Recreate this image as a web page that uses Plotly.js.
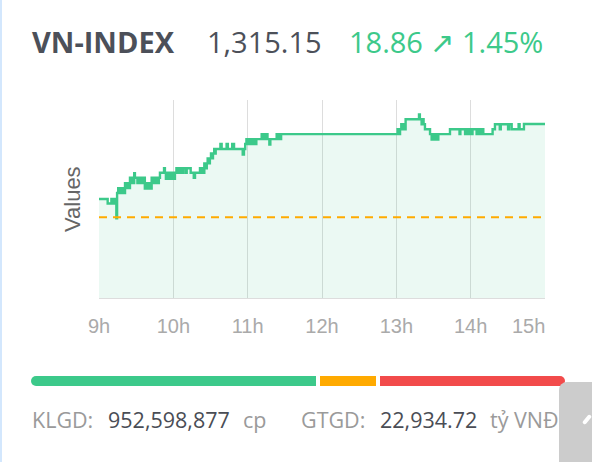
<!DOCTYPE html>
<html>
<head>
<meta charset="utf-8">
<script src="https://cdn.plot.ly/plotly-3.0.1.min.js"></script>
<style>
  html, body { margin:0; padding:0; width:592px; height:462px; overflow:hidden; background:#fff; }
  #wrap { position:relative; width:592px; height:462px; }
  #chart { position:absolute; left:0; top:0; width:592px; height:462px; }
  .t { position:absolute; white-space:nowrap; font-family:"Open Sans", sans-serif; }
  .bar { position:absolute; top:376px; height:10px; }
</style>
</head>
<body>
<div id="wrap">
  <div id="chart"></div>
  <div style="position:absolute;left:0;top:0;width:2px;height:462px;background:#d3e7fd;"></div>
  <div class="t" id="hName" style="left:32px;top:22px;font-size:29px;font-weight:700;color:#4c5059;"></div>
  <div class="t" id="hPrice" style="left:207px;top:22px;font-size:29px;color:#4c5059;"></div>
  <div class="t" id="hChange" style="left:349px;top:22px;font-size:29px;color:#3cc98a;"></div>
  <div class="bar" id="bUp" style="left:31px;width:285px;background:#3cc98a;border-radius:5px 0 0 5px;"></div>
  <div class="bar" id="bFlat" style="left:320px;width:56px;background:#ffaa00;"></div>
  <div class="bar" id="bDown" style="left:380px;width:185px;background:#f24b4b;border-radius:0 5px 5px 0;"></div>
  <div class="t" id="fVolL" style="left:32px;top:405px;font-size:21.5px;color:#9a9a9a;"></div>
  <div class="t" id="fVolV" style="left:108px;top:405px;font-size:21.5px;color:#4a4d55;"></div>
  <div class="t" id="fVolU" style="left:243px;top:405px;font-size:21.5px;color:#9a9a9a;"></div>
  <div class="t" id="fValL" style="left:301px;top:405px;font-size:21.5px;color:#9a9a9a;"></div>
  <div class="t" id="fValV" style="left:380px;top:405px;font-size:21.5px;color:#4a4d55;"></div>
  <div class="t" id="fValU" style="left:490px;top:405px;font-size:21.5px;color:#9a9a9a;"></div>
  <div style="position:absolute;left:559px;top:382px;width:33px;height:80px;background:#cccccc;border-radius:8px 0 0 0;"></div>
  <div style="position:absolute;left:585px;top:414px;width:4px;height:11px;background:#fff;transform:rotate(40deg);border-radius:2px;"></div>
</div>
<script>
// ---- data ----
const indexName = "VN-INDEX";
const lastValue = 1315.15;
const changeValue = 18.86;
const changePct = 1.45;
const refValue = 1296.29;   // previous close (reference)
const volumeText = "952,598,877";
const valueText = "22,934.72";

// minutes after 9:00 and index values (step series)
const minutesFrom9h = [
  0, 7, 10, 11, 12, 13, 14, 14.6, 15.5, 16.5, 17.5, 18.5, 19.5, 20.3,
  21, 22, 23, 24, 25, 26, 27, 27.8, 28.4, 29, 31, 32, 33, 34, 35, 36,
  37, 38, 39, 40, 41, 42.5, 43.5, 44.5, 45.5, 46.5, 47.5, 48.3,
  49.2, 52.5, 53.2, 54, 55, 56, 57, 58, 59, 60, 61.3, 62.5, 63.2,
  64, 65, 66, 67, 68, 70, 70.8, 74, 76.5, 77.5,
  81.5, 82.5, 83.5, 84.3, 85, 86, 87, 87.7, 88.5, 89.5, 90.4, 91.2, 92,
  93, 93.6, 94.2, 98, 99, 103, 104, 107.5, 109, 116, 117,
  118, 119, 120, 121, 122, 123, 124, 125, 126, 127,
  131.3, 132, 133, 134, 135, 136, 137.5, 138.3, 143.4, 144, 145, 146, 147, 150,
  240, 241, 242, 243, 244, 245, 246, 247, 247.5, 258.3, 259, 260.4, 261.3, 262,
  263.1, 267.2, 268.5, 269.3, 270, 271, 272, 273, 273.4, 273.9,
  283.3, 291, 291.7, 295.5, 296.3, 297, 298, 299, 300, 300.8, 301.5,
  304.8, 305.7, 306.5, 307.5, 308.5, 309.3, 310.2,
  317.7, 319.6, 323.5, 324.3, 330.2, 331, 333.1, 338.7, 339.5, 343, 360
];
const indexValues = [
  1300.0, 1299.1, 1300.0, 1299.1, 1300.0, 1299.1, 1296.1, 1301.2, 1302.2, 1301.2, 1302.2, 1301.2, 1302.2, 1301.2,
  1303.2, 1302.2, 1303.2, 1302.2, 1304.3, 1303.2, 1304.3, 1303.2, 1305.2, 1304.3, 1303.2, 1304.3, 1303.2, 1304.3, 1303.2, 1304.3,
  1302.1, 1303.2, 1302.1, 1303.2, 1302.1, 1304.3, 1303.2, 1304.3, 1303.2, 1304.3, 1303.2, 1304.3,
  1305.3, 1306.2, 1305.3, 1304.1, 1305.3, 1304.1, 1305.3, 1304.1, 1305.3, 1304.1, 1305.3, 1306.2, 1305.3,
  1306.2, 1305.3, 1306.2, 1305.3, 1306.2, 1305.3, 1306.2, 1305.3, 1304.3, 1305.3,
  1306.2, 1305.3, 1306.2, 1305.3, 1307.2, 1306.2, 1307.2, 1308.2, 1307.2, 1308.2, 1309.2, 1308.2, 1309.2,
  1310.1, 1309.2, 1310.1, 1311.1, 1310.1, 1311.1, 1310.1, 1311.1, 1310.1, 1309.0, 1310.1,
  1311.1, 1312.1, 1311.1, 1312.1, 1311.1, 1312.1, 1311.1, 1312.1, 1311.1, 1312.1,
  1313.1, 1312.1, 1313.1, 1312.1, 1313.1, 1312.1, 1311.0, 1312.1, 1313.1, 1312.1, 1313.1, 1312.1, 1313.1, 1313.1,
  1313.1, 1314.1, 1313.1, 1314.1, 1315.1, 1314.1, 1315.1, 1314.1, 1316.1, 1317.1, 1316.1, 1315.1, 1316.1, 1315.1,
  1314.1, 1313.1, 1312.0, 1313.1, 1312.0, 1313.1, 1312.0, 1313.1, 1312.0, 1313.1,
  1314.1, 1313.1, 1314.1, 1313.1, 1314.1, 1313.1, 1314.1, 1313.1, 1314.1, 1313.1, 1314.1,
  1313.1, 1314.1, 1313.1, 1314.1, 1313.1, 1314.1, 1313.1,
  1314.1, 1315.1, 1314.1, 1315.1, 1314.1, 1315.1, 1314.1, 1315.1, 1314.1, 1315.15, 1315.15
];
const gridHours = [9, 10, 11, 12, 13, 14, 15];
const tickLabels = ["9h", "10h", "11h", "12h", "13h", "14h", "15h"];
const tickLabelHours = [9, 10, 11, 12, 13, 14, 14.78];
const axisTitle = "Values";

// ---- header / footer text ----
document.getElementById("hName").textContent = indexName;
document.getElementById("hPrice").textContent = lastValue.toLocaleString("en-US", {minimumFractionDigits: 2});
document.getElementById("hChange").textContent = changeValue.toFixed(2) + " \u2197 " + changePct.toFixed(2) + "%";
document.getElementById("fVolL").textContent = "KLGD:";
document.getElementById("fVolV").textContent = volumeText;
document.getElementById("fVolU").textContent = "cp";
document.getElementById("fValL").textContent = "GTGD:";
document.getElementById("fValV").textContent = valueText;
document.getElementById("fValU").textContent = "t\u1ef7 VN\u0110";

const xHours = minutesFrom9h.map(m => 9 + m / 60);

const traces = [
  {
    x: xHours, y: indexValues, type: "scatter", mode: "lines",
    line: {shape: "hv", color: "#3cc98a", width: 2.4},
    fill: "tozeroy", fillcolor: "rgba(60,201,138,0.10)",
    hoverinfo: "skip", showlegend: false
  },
  {
    x: [gridHours[0], gridHours[gridHours.length - 1]], y: [refValue, refValue],
    type: "scatter", mode: "lines",
    line: {color: "#ffab00", width: 2, dash: "8px,6px"},
    hoverinfo: "skip", showlegend: false
  },
  {
    x: [gridHours[0]], y: [refValue], xaxis: "x2", type: "scatter", mode: "markers",
    marker: {opacity: 0}, hoverinfo: "skip", showlegend: false
  }
];

const layout = {
  width: 592, height: 462,
  margin: {l: 99, r: 47, t: 100, b: 164},
  paper_bgcolor: "#ffffff", plot_bgcolor: "#ffffff",
  showlegend: false,
  xaxis: {
    range: [9, 15], tickmode: "array", tickvals: gridHours, showticklabels: false,
    showgrid: true, gridcolor: "#dddddd", gridwidth: 1, zeroline: false,
    showline: true, linecolor: "#dddddd", linewidth: 1, ticks: "", fixedrange: true
  },
  xaxis2: {
    overlaying: "x", anchor: "y", side: "bottom",
    range: [9, 15], tickmode: "array", tickvals: tickLabelHours, ticktext: tickLabels,
    showgrid: false, zeroline: false, showline: false, ticks: "",
    ticklabelstandoff: 14,
    tickfont: {family: "Liberation Sans, Arial, sans-serif", size: 20, color: "#aaaaaa"}
  },
  yaxis: {
    range: [1280, 1320], showgrid: false, showticklabels: false, zeroline: false,
    showline: false, ticks: "", fixedrange: true
  },
  annotations: [{
    text: axisTitle, xref: "paper", yref: "paper", x: -0.0605, y: 0.5,
    xanchor: "center", yanchor: "middle", textangle: -90, showarrow: false,
    font: {family: "Liberation Sans, Arial, sans-serif", size: 22, color: "#666666"}
  }]
};

Plotly.newPlot("chart", traces, layout, {staticPlot: true, displayModeBar: false});
</script>
</body>
</html>
